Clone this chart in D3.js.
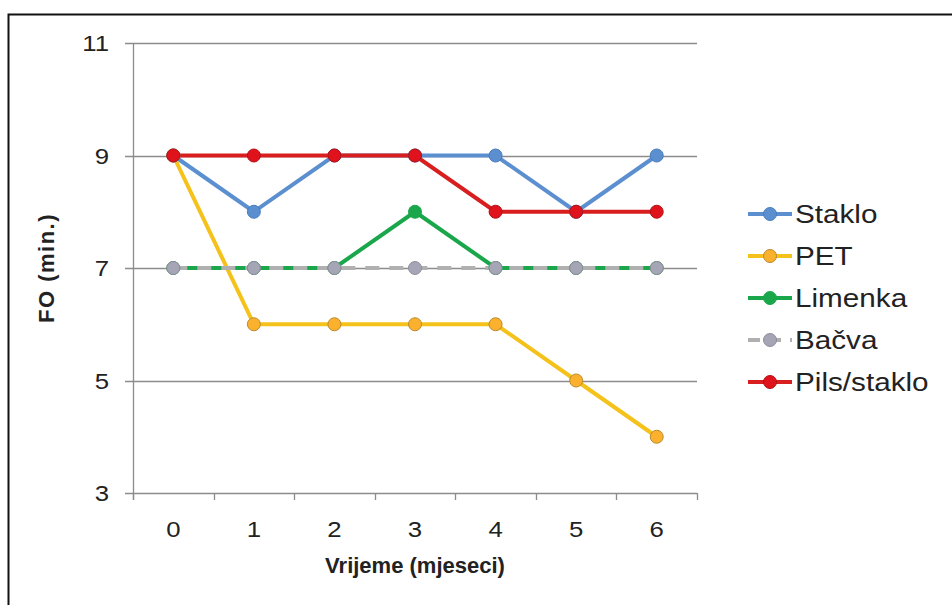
<!DOCTYPE html>
<html>
<head>
<meta charset="utf-8">
<script src="https://cdn.jsdelivr.net/npm/d3@7"></script>
<style>
  body { margin: 0; background: #fff; }
  text { font-family: Arial, "Liberation Sans", sans-serif; fill: #222; }
</style>
</head>
<body>
<svg width="952" height="605"></svg>
<script>
// data
const months = [0, 1, 2, 3, 4, 5, 6]
const seriesNames = ["Staklo", "PET", "Limenka", "Bačva", "Pils/staklo"]
const staklo = [9, 8, 9, 9, 9, 8, 9]
const pet = [9, 6, 6, 6, 6, 5, 4]
const limenka = [7, 7, 7, 8, 7, 7, 7]
const bacva = [7, 7, 7, 7, 7, 7, 7]
const pils = [9, 9, 9, 9, 8, 8, 8]
const yTicks = [3, 5, 7, 9, 11]

const series = [
  { name: seriesNames[0], values: staklo, line: "#5b8fd0", fill: "#5b8fd0", stroke: "#4a7cc0", dash: null },
  { name: seriesNames[1], values: pet, line: "#f5c21b", fill: "#fbb12e", stroke: "#b98a2a", dash: null },
  { name: seriesNames[2], values: limenka, line: "#1aa64a", fill: "#1aa64a", stroke: "#1aa64a", dash: null },
  { name: seriesNames[3], values: bacva, line: "#b0b0b0", fill: "#a5a5b5", stroke: "#8d8d9d", dash: "14,10" },
  { name: seriesNames[4], values: pils, line: "#d81e1e", fill: "#e0121b", stroke: "#b01015", dash: null }
]

const svg = d3.select("svg")

// frame (cropped on right/bottom)
svg.append("rect")
  .attr("x", 8.5).attr("y", 14.5)
  .attr("width", 1000).attr("height", 700)
  .attr("fill", "none").attr("stroke", "#111").attr("stroke-width", 2)

const plotL = 133, plotR = 697, plotT = 43, plotB = 493

const x = d3.scaleBand().domain(months).range([plotL, plotR])
const y = d3.scaleLinear().domain([3, 11]).range([plotB, plotT])

// gridlines
svg.append("g")
  .selectAll("line")
  .data(yTicks)
  .enter()
  .append("line")
  .attr("x1", plotL - 8).attr("x2", plotR)
  .attr("y1", d => Math.round(y(d)) + 0.5).attr("y2", d => Math.round(y(d)) + 0.5)
  .attr("stroke", "#8c8c8c").attr("stroke-width", 1.3)

// y axis line
svg.append("line")
  .attr("x1", plotL + 0.5).attr("x2", plotL + 0.5)
  .attr("y1", plotT).attr("y2", plotB + 7)
  .attr("stroke", "#8c8c8c").attr("stroke-width", 1.3)

// x ticks between bands
const bounds = months.map(m => x(m)).concat([plotR])
svg.append("g")
  .selectAll("line")
  .data(bounds)
  .enter()
  .append("line")
  .attr("x1", d => Math.round(d) + 0.5).attr("x2", d => Math.round(d) + 0.5)
  .attr("y1", plotB).attr("y2", plotB + 7)
  .attr("stroke", "#8c8c8c").attr("stroke-width", 1.3)

// text in the original looks a bit stretched sideways
const sx = 1.12

// y tick labels
svg.append("g")
  .selectAll("text")
  .data(yTicks)
  .enter()
  .append("text")
  .attr("transform", d => `translate(109,${y(d) + 8}) scale(${sx},1)`)
  .attr("text-anchor", "end")
  .attr("font-size", 23)
  .text(d => d)

// x tick labels
svg.append("g")
  .selectAll("text")
  .data(months)
  .enter()
  .append("text")
  .attr("transform", d => `translate(${x(d) + x.bandwidth() / 2},537) scale(${sx},1)`)
  .attr("text-anchor", "middle")
  .attr("font-size", 23)
  .text(d => d)

// axis titles
svg.append("text")
  .attr("x", 415).attr("y", 573)
  .attr("text-anchor", "middle")
  .attr("font-size", 22).attr("font-weight", "bold")
  .text("Vrijeme  (mjeseci)")

svg.append("text")
  .attr("transform", `translate(54,268) rotate(-90)`)
  .attr("text-anchor", "middle")
  .attr("font-size", 22).attr("font-weight", "bold")
  .attr("letter-spacing", 1.5)
  .text("FO (min.)")

// lines
const line = d3.line()
  .x((d, i) => x(months[i]) + x.bandwidth() / 2)
  .y(d => y(d))

series.forEach(s => {
  svg.append("path")
    .datum(s.values)
    .attr("d", line)
    .attr("fill", "none")
    .attr("stroke", s.line)
    .attr("stroke-width", 4)
    .attr("stroke-dasharray", s.dash)
})

// markers
series.forEach(s => {
  svg.append("g")
    .selectAll("circle")
    .data(s.values)
    .enter()
    .append("circle")
    .attr("cx", (d, i) => x(months[i]) + x.bandwidth() / 2)
    .attr("cy", d => y(d))
    .attr("r", 6.5)
    .attr("fill", s.fill)
    .attr("stroke", s.stroke)
    .attr("stroke-width", 1)
})

// legend
const legend = svg.append("g")
  .selectAll("g")
  .data(series)
  .enter()
  .append("g")
  .attr("transform", (d, i) => `translate(748,${214 + i * 42})`)

legend.append("line")
  .attr("x1", 0).attr("x2", 44)
  .attr("stroke", d => d.line)
  .attr("stroke-width", 4)
  .attr("stroke-dasharray", d => d.dash ? "12,9" : null)

legend.append("circle")
  .attr("cx", 22).attr("r", 6.5)
  .attr("fill", d => d.fill)
  .attr("stroke", d => d.stroke)
  .attr("stroke-width", 1)

legend.append("text")
  .attr("transform", `translate(47,9) scale(${sx},1)`)
  .attr("font-size", 26.5)
  .text(d => d.name)
</script>
</body>
</html>
